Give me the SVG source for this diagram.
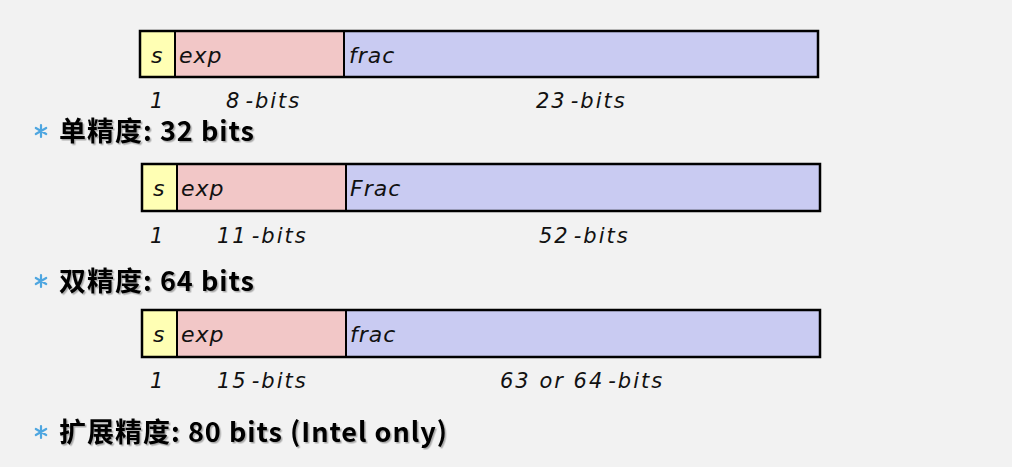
<svg xmlns="http://www.w3.org/2000/svg" width="1012" height="467" viewBox="0 0 1012 467">
<defs>
<style>
.s{fill:#ffffb4}
.e{fill:#f2c7c7}
.f{fill:#c9cbf2}
.div{stroke:#000;stroke-width:2}
.out{fill:none;stroke:#000;stroke-width:2.5}
.lbl{font-family:"DejaVu Sans",sans-serif;font-size:22px;font-style:italic;letter-spacing:1px;fill:#111}
.num{font-family:"DejaVu Sans",sans-serif;font-size:21px;font-style:italic;letter-spacing:2px;fill:#111}
.hd{font-family:"Noto Sans CJK SC",sans-serif;font-size:27px;font-weight:bold;letter-spacing:1px;fill:#000;filter:url(#sh)}
.bul{stroke:#4ea6e0;stroke-width:2.2;stroke-linecap:round;fill:none}
</style>
<filter id="sh" x="-5%" y="-20%" width="110%" height="140%">
<feDropShadow dx="1.5" dy="1.5" stdDeviation="0.6" flood-color="#000" flood-opacity="0.3"/>
</filter>
<g id="ast">
<path d="M0,-6V6M-5.2,-3L5.2,3M-5.2,3L5.2,-3"/>
</g>
</defs>
<rect width="1012" height="467" fill="#f2f2f2"/>

<g id="single">
<rect class="s" x="140" y="31" width="35" height="46"/>
<rect class="e" x="175" y="31" width="169" height="46"/>
<rect class="f" x="344" y="31" width="474" height="46"/>
<line class="div" x1="175" y1="31" x2="175" y2="77"/>
<line class="div" x1="344" y1="31" x2="344" y2="77"/>
<rect class="out" x="140" y="31" width="678" height="46"/>
<text class="lbl" x="151" y="63">s</text>
<text class="lbl" x="179" y="63">exp</text>
<text class="lbl" x="349" y="63">frac</text>
<text class="num" x="150" y="108">1</text>
<text class="num" x="226" y="108">8<tspan dx="4">-bits</tspan></text>
<text class="num" x="536" y="108">23<tspan dx="4">-bits</tspan></text>
</g>
<g id="h1">
<use href="#ast" class="bul" x="41" y="131"/>
<text class="hd" x="59" y="141">单精度: 32 bits</text>
</g>

<g id="double">
<rect class="s" x="142" y="164" width="35" height="47"/>
<rect class="e" x="177" y="164" width="169" height="47"/>
<rect class="f" x="346" y="164" width="474" height="47"/>
<line class="div" x1="177" y1="164" x2="177" y2="211"/>
<line class="div" x1="346" y1="164" x2="346" y2="211"/>
<rect class="out" x="142" y="164" width="678" height="47"/>
<text class="lbl" x="153" y="196">s</text>
<text class="lbl" x="181" y="196">exp</text>
<text class="lbl" x="350" y="196">Frac</text>
<text class="num" x="150" y="243">1</text>
<text class="num" x="217" y="243">11<tspan dx="4">-bits</tspan></text>
<text class="num" x="539" y="243">52<tspan dx="4">-bits</tspan></text>
</g>
<g id="h2">
<use href="#ast" class="bul" x="41" y="281"/>
<text class="hd" x="59" y="291">双精度: 64 bits</text>
</g>

<g id="extended">
<rect class="s" x="142" y="310" width="35" height="47"/>
<rect class="e" x="177" y="310" width="169" height="47"/>
<rect class="f" x="346" y="310" width="474" height="47"/>
<line class="div" x1="177" y1="310" x2="177" y2="357"/>
<line class="div" x1="346" y1="310" x2="346" y2="357"/>
<rect class="out" x="142" y="310" width="678" height="47"/>
<text class="lbl" x="153" y="342">s</text>
<text class="lbl" x="181" y="342">exp</text>
<text class="lbl" x="350" y="342">frac</text>
<text class="num" x="150" y="388">1</text>
<text class="num" x="217" y="388">15<tspan dx="4">-bits</tspan></text>
<text class="num" x="500" y="388">63 or 64<tspan dx="4">-bits</tspan></text>
</g>
<g id="h3">
<use href="#ast" class="bul" x="41" y="432"/>
<text class="hd" x="59" y="442">扩展精度: 80 bits (Intel only)</text>
</g>
</svg>
